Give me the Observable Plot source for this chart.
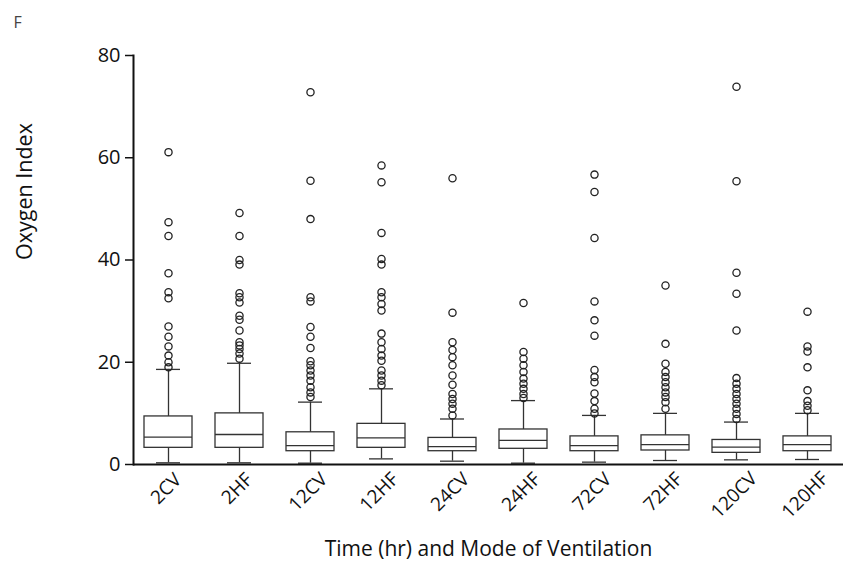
<!DOCTYPE html>
<html>
<head>
<meta charset="utf-8">
<script src="https://cdn.jsdelivr.net/npm/d3@7"></script>
<script src="https://cdn.jsdelivr.net/npm/@observablehq/plot@0.6"></script>
<style>
  html, body { margin: 0; padding: 0; background: #fff; }
  svg { display: block; }
</style>
</head>
<body>
<div id="chart"></div>
<script>
const categories = ["2CV", "2HF", "12CV", "12HF", "24CV", "24HF", "72CV", "72HF", "120CV", "120HF"];
const whiskerLow = [0.33, 0.33, 0.26, 1.1, 0.65, 0.26, 0.46, 0.78, 0.91, 0.98];
const q1 = [3.26, 3.26, 2.6, 3.26, 2.6, 3.07, 2.6, 2.74, 2.28, 2.6];
const median = [5.35, 5.87, 3.7, 5.2, 3.5, 4.7, 3.7, 3.9, 3.4, 3.9];
const q3 = [9.4, 10.0, 6.3, 7.95, 5.2, 6.85, 5.5, 5.7, 4.8, 5.5];
const whiskerHigh = [18.6, 19.8, 12.2, 14.8, 8.9, 12.5, 9.6, 10.0, 8.3, 10.0];
const outlierValues = [
  [61.1, 47.4, 44.7, 37.4, 33.7, 32.5, 27.0, 25.0, 23.1, 21.3, 20.0, 19.0],
  [49.2, 44.7, 40.0, 39.1, 33.5, 32.7, 31.7, 29.1, 28.3, 26.2, 23.9, 23.3, 22.6, 21.7, 20.7],
  [72.8, 55.5, 48.0, 32.7, 31.9, 26.9, 25.0, 22.8, 20.2, 19.4, 18.4, 17.4, 16.4, 15.1, 14.1, 13.2],
  [58.5, 55.2, 45.3, 40.2, 39.1, 33.7, 32.7, 31.4, 30.1, 25.6, 23.9, 22.6, 21.3, 20.3, 18.4, 17.4, 16.4, 15.5],
  [56.0, 29.7, 23.9, 22.4, 21.0, 19.4, 17.4, 15.6, 13.8, 12.8, 11.9, 10.9, 9.6],
  [31.6, 22.0, 20.7, 19.4, 18.1, 16.8, 15.8, 14.8, 13.8, 13.0],
  [56.7, 53.3, 44.3, 31.9, 28.2, 25.2, 18.5, 17.1, 16.1, 13.9, 12.4, 10.9, 10.0],
  [35.0, 23.6, 19.7, 18.1, 17.1, 16.1, 15.1, 14.1, 13.2, 12.2, 10.9],
  [73.9, 55.4, 37.5, 33.4, 26.2, 16.9, 15.8, 14.8, 13.8, 12.8, 11.9, 10.9, 9.9, 8.9],
  [29.9, 23.1, 22.1, 19.0, 14.5, 12.4, 11.5, 10.6]
];
const yTicks = [0, 20, 40, 60, 80];
const panelLabel = "F";
const xTitle = "Time (hr) and Mode of Ventilation";
const yTitle = "Oxygen Index";

const boxes = categories.map((c, i) => ({
  cat: c, lo: whiskerLow[i], q1: q1[i], med: median[i], q3: q3[i], hi: whiskerHigh[i]
}));
const outliers = categories.flatMap((c, i) => outlierValues[i].map(v => ({cat: c, v})));

const font = "'Open Sans', 'DejaVu Sans', sans-serif";
const boxStroke = "#333";

// rotated category labels: bounding box centred under each box, tops aligned
const xLabels = categories.map(c =>
  Plot.text([c], {x: d => d, frameAnchor: "bottom", rotate: -45, textAnchor: "middle",
    dx: 2, dy: 19 + 3.2 * c.length, fontSize: 19, fill: "#111"})
);

const chart = Plot.plot({
  width: 843,
  height: 570,
  marginLeft: 133,
  marginRight: 0,
  marginTop: 55,
  marginBottom: 106,
  style: {fontFamily: font, background: "#fff", color: "#111"},
  x: {domain: categories, paddingInner: 0.32, paddingOuter: 0.16, axis: null},
  y: {domain: [0, 80], axis: null},
  marks: [
    Plot.ruleX(boxes, {x: "cat", y1: "lo", y2: "hi", stroke: boxStroke, strokeWidth: 1.3}),
    Plot.tickY(boxes, {x: "cat", y: "lo", stroke: boxStroke, strokeWidth: 1.3, insetLeft: 12, insetRight: 12}),
    Plot.tickY(boxes, {x: "cat", y: "hi", stroke: boxStroke, strokeWidth: 1.3, insetLeft: 12, insetRight: 12}),
    Plot.barY(boxes, {x: "cat", y1: "q1", y2: "q3", fill: "white", stroke: boxStroke, strokeWidth: 1.3}),
    Plot.tickY(boxes, {x: "cat", y: "med", stroke: boxStroke, strokeWidth: 1.3}),
    Plot.dot(outliers, {x: "cat", y: "v", r: 3.6, fill: "none", stroke: "#222", strokeWidth: 1.3}),
    Plot.ruleY([0], {stroke: "#111", strokeWidth: 2}),
    Plot.frame({anchor: "left", stroke: "#111", strokeWidth: 2}),
    Plot.axisY({ticks: yTicks, tickSize: 8, tickPadding: 5, fontSize: 20, label: null, stroke: "#111", strokeWidth: 1.5}),
    ...xLabels,
    Plot.text([yTitle], {frameAnchor: "left", rotate: -90, dx: -108, fontSize: 21.5, fill: "#111"}),
    Plot.text([xTitle], {frameAnchor: "bottom", dy: 91, fontSize: 21, fill: "#111"}),
    Plot.text([panelLabel], {frameAnchor: "top-left", dx: 13 - 133, dy: 16 - 55, textAnchor: "start", fontSize: 16, fill: "#444"})
  ]
});
document.getElementById("chart").append(chart);
</script>
</body>
</html>
